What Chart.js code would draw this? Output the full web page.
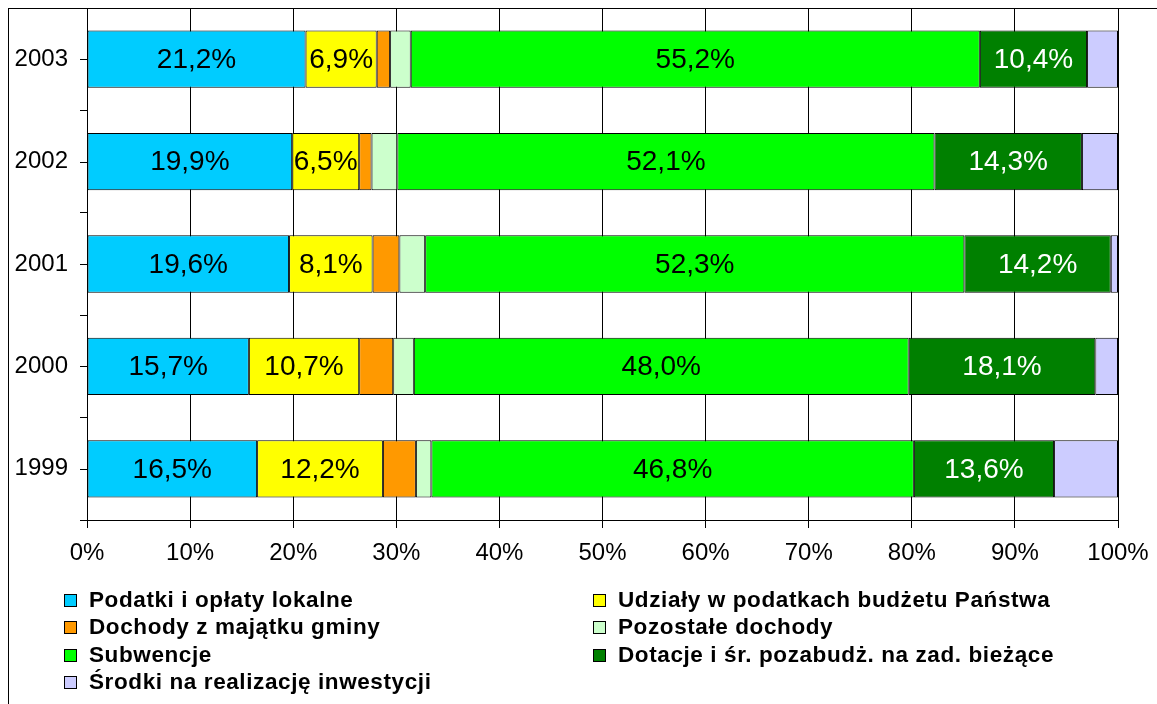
<!DOCTYPE html>
<html lang="pl">
<head>
<meta charset="utf-8">
<script src="https://cdn.jsdelivr.net/npm/chart.js@4/dist/chart.umd.min.js"></script>
<style>
  body { margin: 0; background: #fff; font-family: "Liberation Sans", Arial, sans-serif; }
  #wrap { position: relative; width: 1157px; height: 704px; overflow: hidden; }
  #frame { position: absolute; left: 8px; top: 8px; right: -2px; bottom: -2px; border-left: 1px solid #000; border-top: 1px solid #000; pointer-events: none; }
  #legenda { position: absolute; left: 0; top: 0; width: 1157px; height: 704px; pointer-events: none; }
  .poz { position: absolute; display: flex; align-items: center; font-weight: bold; font-size: 22.5px; line-height: 26px; letter-spacing: 0.6px; color: #000; white-space: nowrap; }
  .poz span.kw { width: 11px; height: 11px; border: 1px solid #000; margin-right: 12px; }
</style>
</head>
<body>
<div id="wrap">
  <canvas id="wykres" width="1157" height="704"></canvas>
  <div id="frame"></div>
  <div id="legenda"></div>
</div>
<script>
// lata (od góry)
const lata = ['2003', '2002', '2001', '2000', '1999'];

// udział poszczególnych źródeł dochodów, %
const podatkiLokalne = [21.2, 19.9, 19.6, 15.7, 16.5];
const udzialyPodatki = [6.9, 6.5, 8.1, 10.7, 12.2];
const majatekGminy   = [1.3, 1.2, 2.6, 3.3, 3.2];
const pozostale      = [2.0, 2.5, 2.5, 2.0, 1.5];
const subwencje      = [55.2, 52.1, 52.3, 48.0, 46.8];
const dotacje        = [10.4, 14.3, 14.2, 18.1, 13.6];
const inwestycje     = [3.0, 3.5, 0.7, 2.2, 6.2];

const ticksX = [0, 10, 20, 30, 40, 50, 60, 70, 80, 90, 100];

const serie = [
    { label: 'Podatki i opłaty lokalne', data: podatkiLokalne, backgroundColor: '#00CCFF', opis: '#000' },
    { label: 'Udziały w podatkach budżetu Państwa', data: udzialyPodatki, backgroundColor: '#FFFF00', opis: '#000' },
    { label: 'Dochody z majątku gminy', data: majatekGminy, backgroundColor: '#FF9900' },
    { label: 'Pozostałe dochody', data: pozostale, backgroundColor: '#CCFFCC' },
    { label: 'Subwencje', data: subwencje, backgroundColor: '#00FF00', opis: '#000' },
    { label: 'Dotacje i śr. pozabudż. na zad. bieżące', data: dotacje, backgroundColor: '#008000', opis: '#fff' },
    { label: 'Środki na realizację inwestycji', data: inwestycje, backgroundColor: '#CCCCFF' }
];

const fmt = v => v.toFixed(1).replace('.', ',') + '%';

// etykiety wartości w środku słupków
const etykiety = {
    id: 'etykiety',
    afterDatasetsDraw(chart) {
        const ctx = chart.ctx;
        ctx.save();
        ctx.font = '28px "Liberation Sans", Arial, sans-serif';
        ctx.textAlign = 'center';
        ctx.textBaseline = 'middle';
        chart.data.datasets.forEach((ds, i) => {
            if (!ds.opis) return;
            ctx.fillStyle = ds.opis;
            chart.getDatasetMeta(i).data.forEach((bar, j) => {
                ctx.fillText(fmt(ds.data[j]), (bar.x + bar.base) / 2, bar.y + 1);
            });
        });
        ctx.restore();
    }
};

// ramka obszaru wykresu + kreski przy etykietach lat
const ramka = {
    id: 'ramka',
    afterDraw(chart) {
        const { ctx, chartArea: a, scales } = chart;
        ctx.save();
        ctx.strokeStyle = '#000';
        ctx.lineWidth = 1;
        ctx.strokeRect(Math.round(a.left) + 0.5, Math.round(a.top) + 0.5, Math.round(a.width), Math.round(a.height));
        ctx.beginPath();
        lata.forEach((_, i) => {
            const y = Math.round(scales.y.getPixelForTick(i)) + 0.5;
            ctx.moveTo(a.left - 7, y);
            ctx.lineTo(a.left, y);
        });
        ctx.stroke();
        ctx.restore();
    }
};

const chart = new Chart(document.getElementById('wykres'), {
    type: 'bar',
    data: {
        labels: lata,
        datasets: serie.map(s => ({
            label: s.label,
            data: s.data,
            backgroundColor: s.backgroundColor,
            opis: s.opis,
            borderColor: '#000',
            borderWidth: 1,
            borderSkipped: false,
            barPercentage: 0.56,
            categoryPercentage: 1
        }))
    },
    options: {
        indexAxis: 'y',
        responsive: false,
        animation: false,
        layout: { padding: { left: 0, right: 39, top: 8, bottom: 134 } },
        plugins: { legend: { display: false }, tooltip: { enabled: false } },
        scales: {
            x: {
                stacked: true,
                min: 0,
                max: 100,
                afterBuildTicks: s => { s.ticks = ticksX.map(v => ({ value: v })); },
                afterFit: s => { s.height = 50; s.paddingLeft = 0; s.paddingRight = 0; },
                ticks: {
                    callback: v => v + '%',
                    color: '#000',
                    padding: 11,
                    maxRotation: 0,
                    font: { family: '"Liberation Sans", Arial, sans-serif', size: 24 }
                },
                grid: { color: '#000', tickLength: 8, tickColor: '#000' },
                border: { color: '#000' }
            },
            y: {
                stacked: true,
                afterFit: s => { s.width = 87; s.paddingTop = 0; s.paddingBottom = 0; },
                ticks: {
                    color: '#000',
                    padding: 12,
                    font: { family: '"Liberation Sans", Arial, sans-serif', size: 24 }
                },
                grid: { drawOnChartArea: false, offset: true, tickLength: 7, tickColor: '#000' },
                border: { color: '#000' }
            }
        }
    },
    plugins: [etykiety, ramka]
});

// legenda w dwóch kolumnach
const legenda = document.getElementById('legenda');
const kolX = [64, 593];
const wierszY = [600, 627, 655, 682];
serie.forEach((s, i) => {
    const el = document.createElement('div');
    el.className = 'poz';
    el.style.left = kolX[i % 2] + 'px';
    el.style.top = (wierszY[Math.floor(i / 2)] - 13) + 'px';
    el.innerHTML = '<span class="kw" style="background:' + s.backgroundColor + '"></span>' + s.label;
    legenda.appendChild(el);
});
</script>
</body>
</html>
